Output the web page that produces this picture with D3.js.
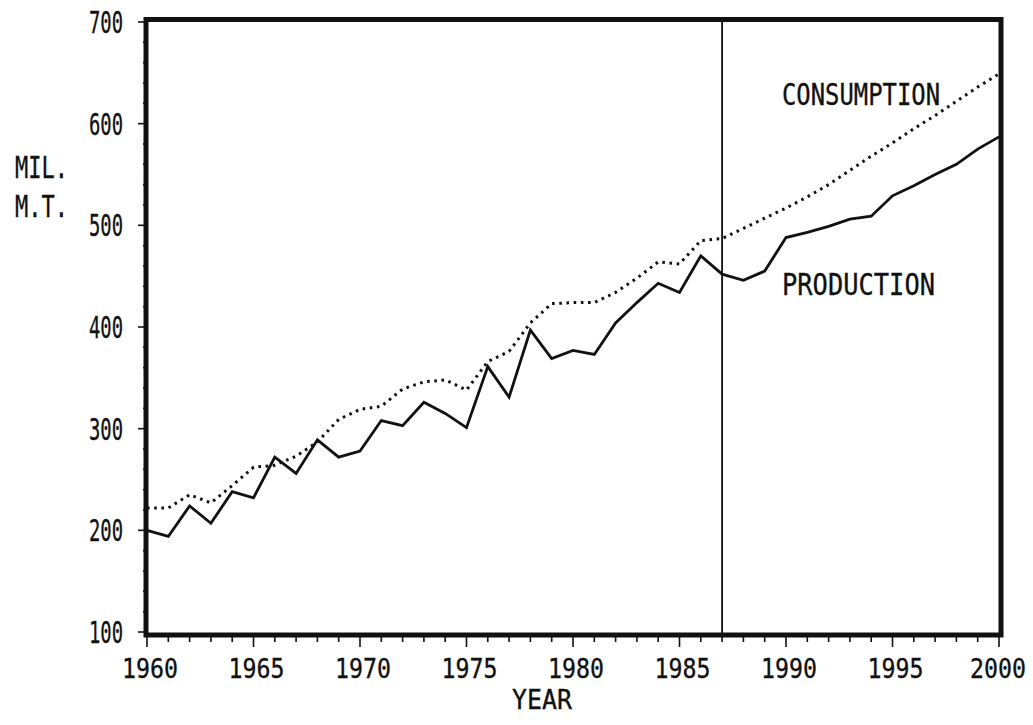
<!DOCTYPE html>
<html>
<head>
<meta charset="utf-8">
<script src="https://cdn.jsdelivr.net/npm/d3@7"></script>
<style>
  html, body { margin: 0; padding: 0; background: #fff; }
  svg { display: block; }
  text { font-family: "DejaVu Sans Mono", "Liberation Mono", monospace; fill: #111; stroke: #111; stroke-width: 0.35px; }
</style>
</head>
<body>
<svg id="chart" width="1033" height="725"></svg>
<script>
// ---- data ----
const years = d3.range(1960, 2001);
const production = [200,194,224,207,238,232,272,256,289,272,
                    278,308,303,326,315,301,361,331,397,369,
                    377,373,404,424,443,434,470,452,446,455,
                    488,493,499,506,509,529,539,550,560,575,587];
const consumption = [222,222,235,227,244,262,264,273,287,309,
                     319,322,339,346,348,338,366,376,404,423,
                     424,424,434,448,464,462,485,487,497,507,
                     517,528,540,554,568,581,595,608,622,636,649];
const xTickLabels = ["1960","1965","1970","1975","1980","1985","1990","1995","2000"];
const yTickLabels = ["100","200","300","400","500","600","700"];
const yAxisLabel = ["MIL.", "M.T."];
const xAxisLabel = "YEAR";
const seriesLabels = ["CONSUMPTION", "PRODUCTION"];
const dividerYear = 1987;

// ---- layout ----
const svg = d3.select("#chart");
const x = d3.scaleLinear().domain([1960, 2000]).range([147, 999]);
const y = d3.scaleLinear().domain([100, 700]).range([632, 22]);
const frame = {left: 146, right: 1001, top: 19.5, bottom: 635};
const FS = 30;

// x ticks (every year, longer every 5)
svg.append("g").selectAll("line").data(years).join("line")
  .attr("x1", d => x(d)).attr("x2", d => x(d))
  .attr("y1", frame.bottom).attr("y2", d => frame.bottom + (d % 5 === 0 ? 12 : 7))
  .attr("stroke", "#111").attr("stroke-width", 1.6);

// y ticks
svg.append("g").selectAll("line").data(d3.range(100, 701, 20)).join("line")
  .attr("x1", d => frame.left - (d % 100 === 0 ? 8 : 3)).attr("x2", frame.left)
  .attr("y1", d => y(d)).attr("y2", d => y(d))
  .attr("stroke", "#111").attr("stroke-width", 1.6);

// y tick labels
svg.append("g").selectAll("text").data(yTickLabels).join("text")
  .attr("x", 123).attr("y", d => y(+d) + 11)
  .attr("text-anchor", "end")
  .attr("font-size", FS)
  .attr("textLength", 34).attr("lengthAdjust", "spacingAndGlyphs")
  .text(d => d);

// x tick labels
svg.append("g").selectAll("text").data(xTickLabels).join("text")
  .attr("x", d => Math.min(x(+d) + 3, 998)).attr("y", 678)
  .attr("text-anchor", "middle")
  .attr("font-size", 26.5)
  .attr("textLength", 56).attr("lengthAdjust", "spacingAndGlyphs")
  .text(d => d);

// axis titles
svg.append("text").attr("x", 512).attr("y", 709)
  .attr("font-size", 26.5).attr("textLength", 60).attr("lengthAdjust", "spacingAndGlyphs")
  .text(xAxisLabel);
svg.append("g").selectAll("text").data(yAxisLabel).join("text")
  .attr("x", 15).attr("y", (d, i) => 178 + i * 39)
  .attr("font-size", FS).attr("textLength", 53).attr("lengthAdjust", "spacingAndGlyphs")
  .text(d => d);

// divider line
svg.append("line")
  .attr("x1", x(dividerYear)).attr("x2", x(dividerYear))
  .attr("y1", frame.top).attr("y2", frame.bottom)
  .attr("stroke", "#111").attr("stroke-width", 1.8);

// series
const line = d3.line().x((d, i) => x(years[i])).y(d => y(d));
svg.append("path").datum(consumption)
  .attr("d", line).attr("fill", "none")
  .attr("stroke", "#111").attr("stroke-width", 3)
  .attr("stroke-dasharray", "2.6,4.6");
svg.append("path").datum(production)
  .attr("d", line).attr("fill", "none")
  .attr("stroke", "#111").attr("stroke-width", 2.8)
  .attr("stroke-linejoin", "miter");

// frame
svg.append("rect")
  .attr("x", frame.left).attr("y", frame.top)
  .attr("width", frame.right - frame.left).attr("height", frame.bottom - frame.top)
  .attr("fill", "none").attr("stroke", "#111").attr("stroke-width", 5);

// series labels
svg.append("text").attr("x", 782).attr("y", 105)
  .attr("font-size", FS).attr("textLength", 158).attr("lengthAdjust", "spacingAndGlyphs")
  .text(seriesLabels[0]);
svg.append("text").attr("x", 782).attr("y", 295)
  .attr("font-size", FS).attr("textLength", 153).attr("lengthAdjust", "spacingAndGlyphs")
  .text(seriesLabels[1]);
</script>
</body>
</html>
